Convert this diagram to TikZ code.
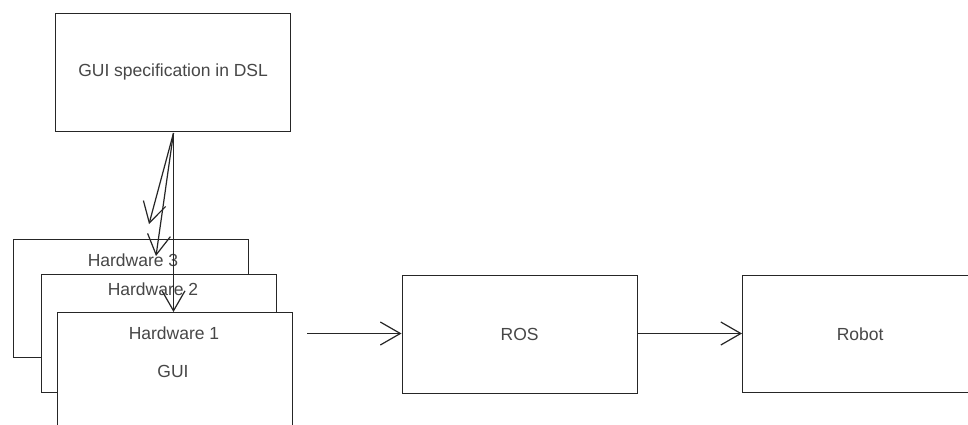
\documentclass[tikz,border=0pt]{standalone}
\usepackage{fontspec}
\setmainfont{Liberation Sans}
\usetikzlibrary{arrows.meta}
\begin{document}
\begin{tikzpicture}[x=1pt,y=-1pt,
  every node/.style={font=\fontsize{17.5}{21}\selectfont, text=black!72},
  block/.style={draw=black!85, line width=1.2pt, fill=white, anchor=north west,
    minimum width=235, minimum height=117.5, inner sep=0pt},
  tag/.style={inner sep=0pt},
  flow/.style={draw=black!85, line width=1.2pt,
    -{Straight Barb[length=20pt,width=23pt,line width=1.2pt]}}]
\useasboundingbox (0,0) rectangle (968,424);
\clip (0,0) rectangle (968,424);
\fill[white] (0,0) rectangle (968,424);

% specification
\node[block] (dsl) at (55,13) {GUI specification in DSL};

% stacked hardware targets
\node[block] (hw3) at (12.5,239) {};
\node[tag] (hw3t) at (133,260) {Hardware 3};
\node[block] (hw2) at (40.5,274) {};
\node[tag] (hw2t) at (153,289) {Hardware 2};
\node[block] (hw1) at (57,312) {};
\node[tag] (hw1t) at (174,333) {Hardware 1};
\node[tag] (gui) at (173,371) {GUI};

% middleware and robot
\node[block] (ros) at (401.5,275) {ROS};
\node[block] (robot) at (742,274.5) {Robot};

% generation arrows
\coordinate (src) at (173.5,133);
\coordinate (tipa) at (149,224);
\coordinate (tipb) at (156,256);
\draw[flow] (src) -- (tipa);
\draw[flow] (src) -- (tipb);
\draw[flow] (src) -- (hw1.north -| src);

% data flow
\coordinate (out) at (307,333.5);
\draw[flow] (out) -- (out -| ros.west);
\draw[flow] (ros.east |- out) -- (out -| robot.west);
\end{tikzpicture}
\end{document}
